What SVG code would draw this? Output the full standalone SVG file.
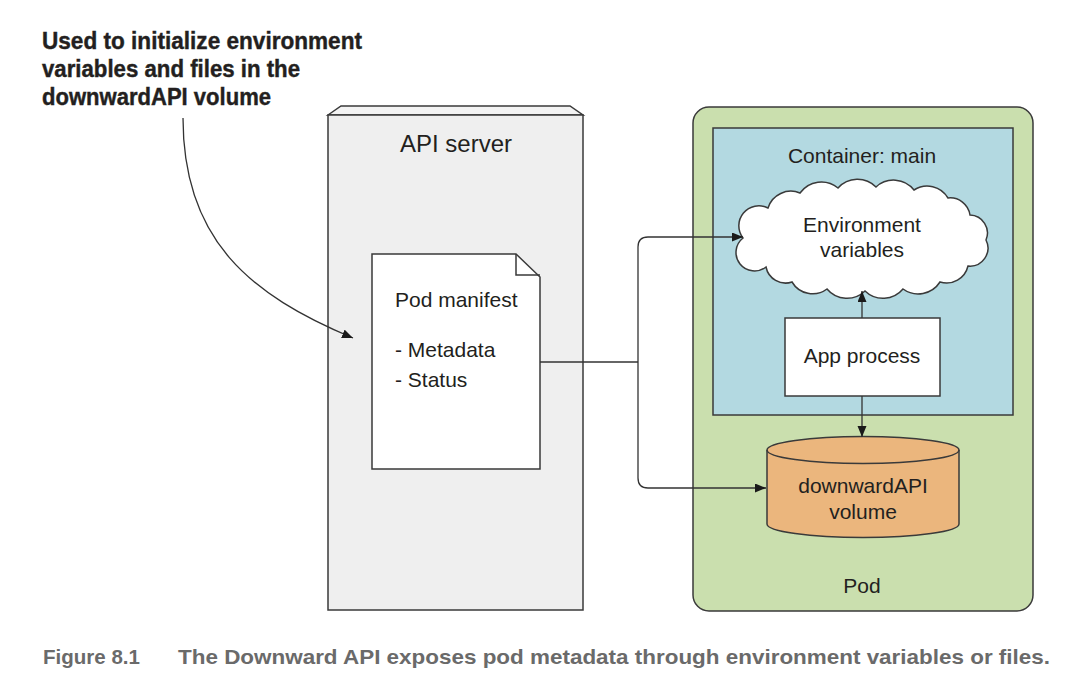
<svg xmlns="http://www.w3.org/2000/svg" width="1078" height="698" viewBox="0 0 1078 698">
<style>
.ln{fill:none;stroke:#333;stroke-width:1.3}
.box{stroke:#3a3a3a;stroke-width:1.5}
.t{font-family:"Liberation Sans",Arial,sans-serif;font-size:21px;fill:#231f20}
.tc{text-anchor:middle}
.ann{font-family:"Liberation Sans",Arial,sans-serif;font-weight:bold;font-size:23px;fill:#231f20;stroke:#231f20;stroke-width:0.4}
.cap{font-family:"Liberation Sans",Arial,sans-serif;font-weight:bold;font-size:21px;fill:#6a6a6a}
</style>
<defs>
<marker id="ah" markerUnits="userSpaceOnUse" markerWidth="12" markerHeight="10" refX="11" refY="4.5" orient="auto">
<path d="M0,0 L11,4.5 L0,9 Z" fill="#1a1a1a"/>
</marker>
</defs>
<rect width="1078" height="698" fill="#fff"/>

<g id="annotation">
<text class="ann" x="42" y="49" textLength="320" lengthAdjust="spacingAndGlyphs">Used to initialize environment</text>
<text class="ann" x="42" y="77" textLength="258" lengthAdjust="spacingAndGlyphs">variables and files in the</text>
<text class="ann" x="42" y="105" textLength="229" lengthAdjust="spacingAndGlyphs">downwardAPI volume</text>
</g>

<g id="api-server">
<polygon class="box" points="328,115 341,106 570,106 583,115" fill="#f3f3f3"/>
<rect class="box" x="328" y="115" width="255" height="495" fill="#efefef"/>
<text class="t tc" x="456" y="152" style="font-size:24px">API server</text>
</g>

<g id="pod-manifest">
<path class="box" d="M372,254 H516 L540,277 V469 H372 Z" fill="#fff"/>
<path class="box" d="M516,254 V275 H540" fill="none"/>
<text class="t" x="395" y="307">Pod manifest</text>
<text class="t" x="395" y="357">- Metadata</text>
<text class="t" x="395" y="387">- Status</text>
</g>

<g id="pod">
<rect class="box" x="693" y="107" width="340" height="504" rx="16" fill="#cadfae"/>
<text class="t tc" x="862" y="593">Pod</text>
</g>

<g id="container-main">
<rect class="box" x="713" y="128" width="300" height="287" fill="#b3d9e1"/>
<text class="t tc" x="862" y="163">Container: main</text>
</g>

<g id="env-vars">
<path class="box" fill="#fff" d="M743,238 A20,20 0 0 1 768,208 A24,24 0 0 1 800,193 A26,26 0 0 1 838,188 A26,26 0 0 1 876,187 A26,26 0 0 1 914,190 A24,24 0 0 1 948,198 A20,20 0 0 1 970,215 A18,18 0 0 1 986,240 A18,18 0 0 1 968,266 A22,22 0 0 1 940,282 A26,26 0 0 1 903,289 A26,26 0 0 1 865,291 A26,26 0 0 1 827,289 A24,24 0 0 1 792,282 A20,20 0 0 1 766,267 A18,18 0 0 1 743,238 Z"/>
<text class="t tc" x="862" y="232">Environment</text>
<text class="t tc" x="862" y="257">variables</text>
</g>

<g id="app-process">
<rect class="box" x="785" y="318" width="155" height="78" fill="#fff"/>
<text class="t tc" x="862" y="363">App process</text>
</g>

<g id="downwardapi-volume">
<path class="box" fill="#ebb67d" d="M767,450 A96,13.5 0 0 1 959,450 V524 A96,13.5 0 0 1 767,524 Z"/>
<path class="box" fill="none" d="M767,450 A96,13.5 0 0 0 959,450"/>
<text class="t tc" x="863" y="493">downwardAPI</text>
<text class="t tc" x="863" y="519">volume</text>
</g>

<g id="connectors">
<path class="ln" d="M183,118 C183,240 250,295 353,338" marker-end="url(#ah)"/>
<path class="ln" d="M540,362 H638"/>
<path class="ln" d="M638,362 V247 Q638,237 648,237 H743" marker-end="url(#ah)"/>
<path class="ln" d="M638,362 V478 Q638,488 648,488 H766" marker-end="url(#ah)"/>
<path class="ln" d="M862,318 V291" marker-end="url(#ah)"/>
<path class="ln" d="M862,396 V437" marker-end="url(#ah)"/>
</g>

<g id="caption">
<text class="cap" x="43" y="664" textLength="97" lengthAdjust="spacingAndGlyphs">Figure 8.1</text>
<text class="cap" x="178" y="664" textLength="872" lengthAdjust="spacingAndGlyphs">The Downward API exposes pod metadata through environment variables or files.</text>
</g>
</svg>
